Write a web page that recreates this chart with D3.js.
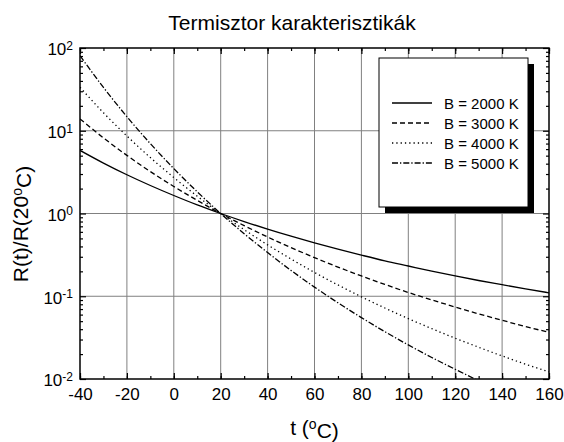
<!DOCTYPE html>
<html>
<head>
<meta charset="utf-8">
<script src="https://cdn.jsdelivr.net/npm/d3@7/dist/d3.min.js"></script>
<style>
  body { margin: 0; background: #fff; }
  text { font-family: Arial, "Liberation Sans", sans-serif; fill: #000; }
</style>
</head>
<body>
<div id="chart"></div>
<script>
// temperatures (°C) and R(t)/R(20°C)
var temps = [-40, -30, -20, -10, 0, 10, 20, 30, 40, 50, 60, 70, 80, 90, 100, 110, 120, 130, 140, 150, 160];
var b2000 = [5.79, 4.07, 2.94, 2.18, 1.65, 1.27, 1, 0.799, 0.647, 0.531, 0.441, 0.370, 0.314, 0.268, 0.232, 0.201, 0.176, 0.155, 0.138, 0.123, 0.110];
var b3000 = [13.9, 8.20, 5.04, 3.21, 2.12, 1.44, 1, 0.714, 0.520, 0.387, 0.293, 0.225, 0.176, 0.139, 0.111, 0.0904, 0.0741, 0.0613, 0.0512, 0.0431, 0.0366];
var b4000 = [33.5, 16.5, 8.64, 4.74, 2.72, 1.62, 1, 0.638, 0.418, 0.282, 0.194, 0.137, 0.0985, 0.0721, 0.0537, 0.0406, 0.0311, 0.0242, 0.0190, 0.0151, 0.0122];
var b5000 = [80.6, 33.4, 14.8, 6.99, 3.49, 1.83, 1, 0.570, 0.337, 0.205, 0.129, 0.0833, 0.0552, 0.0373, 0.0258, 0.0182, 0.0131, 0.00953, 0.00706, 0.00530, 0.00404];
var seriesNames = ["B = 2000 K", "B = 3000 K", "B = 4000 K", "B = 5000 K"];
var xTicks = [-40, -20, 0, 20, 40, 60, 80, 100, 120, 140, 160];
var yTicks = [0.01, 0.1, 1, 10, 100];
var yExps = ["-2", "-1", "0", "1", "2"];

(function () {
    var series = [b2000, b3000, b4000, b5000];
    var dashes = [null, "5,3", "1.3,3", "6,2,1.3,2"];

    var width = 564, height = 442;
    var pLeft = 80, pRight = 549, pTop = 48, pBottom = 379;
    var font = "Arial, 'Liberation Sans', sans-serif";

    var svg = d3.select("#chart").append("svg")
        .attr("width", width)
        .attr("height", height);

    var x = d3.scaleLinear().domain([-40, 160]).range([pLeft, pRight]);
    var y = d3.scaleLog().domain([0.01, 100]).range([pBottom, pTop]);

    var minorX = d3.range(-40, 161, 10);
    var minorY = [];
    yTicks.slice(0, 4).forEach(function (d) {
        for (var k = 2; k <= 9; k++) minorY.push(d * k);
    });

    // grid
    svg.append("g").selectAll("line")
        .data(xTicks.slice(1, -1))
        .enter().append("line")
        .attr("x1", function (d) { return x(d); })
        .attr("x2", function (d) { return x(d); })
        .attr("y1", pTop).attr("y2", pBottom)
        .style("stroke", "#808080").style("stroke-width", 1);
    svg.append("g").selectAll("line")
        .data(yTicks.slice(1, -1))
        .enter().append("line")
        .attr("y1", function (d) { return y(d); })
        .attr("y2", function (d) { return y(d); })
        .attr("x1", pLeft).attr("x2", pRight)
        .style("stroke", "#808080").style("stroke-width", 1);

    // curves
    svg.append("clipPath").attr("id", "clip")
        .append("rect").attr("x", pLeft).attr("y", pTop)
        .attr("width", pRight - pLeft).attr("height", pBottom - pTop);

    var line = d3.line()
        .x(function (d, i) { return x(temps[i]); })
        .y(function (d) { return y(d); })
        .curve(d3.curveMonotoneX);

    svg.append("g").attr("clip-path", "url(#clip)")
        .selectAll("path")
        .data(series)
        .enter().append("path")
        .attr("d", line)
        .style("fill", "none")
        .style("stroke", "#000")
        .style("stroke-width", 1.3)
        .style("stroke-dasharray", function (d, i) { return dashes[i]; });

    // axes: inward ticks on all four sides
    function styleAxis(g) {
        g.select(".domain").remove();
        g.selectAll("line").style("stroke", "#000").style("stroke-width", 1.2);
    }

    svg.append("g").attr("transform", "translate(0," + pBottom + ")")
        .call(d3.axisBottom(x).tickValues(minorX).tickSizeOuter(0)
            .tickSizeInner(-3).tickFormat(""))
        .call(styleAxis);
    var xAxis = svg.append("g").attr("transform", "translate(0," + pBottom + ")")
        .call(d3.axisBottom(x).tickValues(xTicks).tickSizeOuter(0)
            .tickSizeInner(-6).tickPadding(9).tickFormat(function (d) { return String(d); }))
        .call(styleAxis);
    xAxis.selectAll("text").style("font-size", "17px").style("font-family", font);

    svg.append("g").attr("transform", "translate(0," + pTop + ")")
        .call(d3.axisTop(x).tickValues(minorX).tickSizeOuter(0)
            .tickSizeInner(-3).tickFormat(""))
        .call(styleAxis);
    svg.append("g").attr("transform", "translate(0," + pTop + ")")
        .call(d3.axisTop(x).tickValues(xTicks).tickSizeOuter(0)
            .tickSizeInner(-6).tickFormat(""))
        .call(styleAxis);

    svg.append("g").attr("transform", "translate(" + pLeft + ",0)")
        .call(d3.axisLeft(y).tickValues(minorY).tickSizeOuter(0)
            .tickSizeInner(-3).tickFormat(""))
        .call(styleAxis);
    var yAxis = svg.append("g").attr("transform", "translate(" + pLeft + ",0)")
        .call(d3.axisLeft(y).tickValues(yTicks).tickSizeOuter(0)
            .tickSizeInner(-6).tickPadding(7).tickFormat(""))
        .call(styleAxis);
    yAxis.selectAll(".tick text")
        .attr("dy", "0.4em")
        .style("font-size", "17px")
        .style("font-family", font)
        .each(function (d, i) {
            var t = d3.select(this);
            t.text("10");
            t.append("tspan").attr("dy", "-0.45em").style("font-size", "12px").text(yExps[i]);
        });

    svg.append("g").attr("transform", "translate(" + pRight + ",0)")
        .call(d3.axisRight(y).tickValues(minorY).tickSizeOuter(0)
            .tickSizeInner(-3).tickFormat(""))
        .call(styleAxis);
    svg.append("g").attr("transform", "translate(" + pRight + ",0)")
        .call(d3.axisRight(y).tickValues(yTicks).tickSizeOuter(0)
            .tickSizeInner(-6).tickFormat(""))
        .call(styleAxis);

    // frame
    svg.append("rect")
        .attr("x", pLeft).attr("y", pTop)
        .attr("width", pRight - pLeft).attr("height", pBottom - pTop)
        .style("fill", "none").style("stroke", "#000").style("stroke-width", 1.5);

    // legend
    var lg = svg.append("g");
    lg.append("rect").attr("x", 385).attr("y", 64).attr("width", 149).attr("height", 149)
        .style("fill", "#000");
    lg.append("rect").attr("x", 379).attr("y", 58).attr("width", 149).attr("height", 149)
        .style("fill", "#fff").style("stroke", "#000").style("stroke-width", 1);
    var rows = lg.selectAll("g.row")
        .data(seriesNames)
        .enter().append("g")
        .attr("transform", function (d, i) { return "translate(0," + (103 + i * 20) + ")"; });
    rows.append("line")
        .attr("x1", 392).attr("x2", 432).attr("y1", 0).attr("y2", 0)
        .style("stroke", "#000").style("stroke-width", 1.3)
        .style("stroke-dasharray", function (d, i) { return dashes[i]; });
    rows.append("text")
        .attr("x", 444).attr("y", 5.5)
        .style("font-size", "15px")
        .text(function (d) { return d; });

    // titles
    svg.append("text")
        .attr("x", 292).attr("y", 30)
        .attr("text-anchor", "middle")
        .style("font-size", "21px")
        .text("Termisztor karakterisztikák");

    var xl = svg.append("text")
        .attr("x", (pLeft + pRight) / 2).attr("y", 435)
        .attr("text-anchor", "middle")
        .style("font-size", "21px")
        .text("t (");
    xl.append("tspan").attr("dy", "-0.45em").style("font-size", "14px").text("o");
    xl.append("tspan").attr("dy", "0.45em").text("C)");

    var yl = svg.append("text")
        .attr("transform", "rotate(-90)")
        .attr("x", -224).attr("y", 28)
        .attr("text-anchor", "middle")
        .style("font-size", "21px")
        .text("R(t)/R(20");
    yl.append("tspan").attr("dy", "-0.45em").style("font-size", "14px").text("o");
    yl.append("tspan").attr("dy", "0.45em").text("C)");
})();
</script>
</body>
</html>
